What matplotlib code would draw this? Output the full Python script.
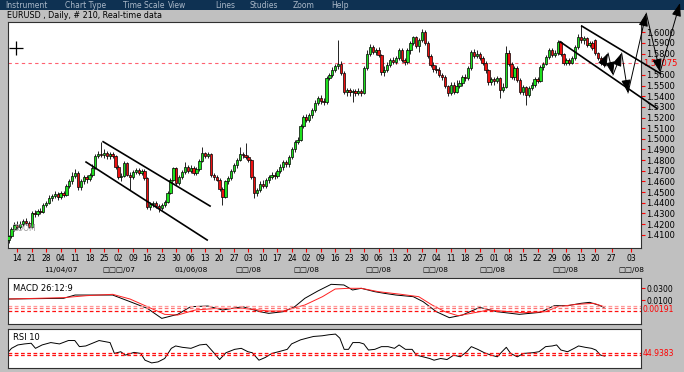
import numpy as np
import matplotlib.pyplot as plt
import matplotlib.transforms as mtransforms
from matplotlib.patches import Rectangle

W, H = 684, 372

def box(x0, y0, x1, y1):
    # pixel box (top-left origin) -> figure fraction rect
    return [x0 / W, 1 - y1 / H, (x1 - x0) / W, (y1 - y0) / H]

# daily EURUSD candles
opens = [
    1.4050, 1.4087, 1.4150, 1.4190, 1.4170, 1.4200, 1.4230, 1.4210, 1.4175, 1.4300,
    1.4290, 1.4320, 1.4310, 1.4380, 1.4400, 1.4440, 1.4460, 1.4480, 1.4450, 1.4495,
    1.4470, 1.4560, 1.4600, 1.4650, 1.4680, 1.4545, 1.4600, 1.4640, 1.4620, 1.4660,
    1.4730, 1.4840, 1.4860, 1.4850, 1.4865, 1.4835, 1.4860, 1.4840, 1.4735, 1.4640,
    1.4650, 1.4770, 1.4660, 1.4640, 1.4690, 1.4710, 1.4680, 1.4700, 1.4630, 1.4360,
    1.4390, 1.4400, 1.4370, 1.4350, 1.4380, 1.4410, 1.4490, 1.4610, 1.4725, 1.4590,
    1.4640, 1.4690, 1.4735, 1.4700, 1.4730, 1.4680, 1.4720, 1.4790, 1.4865, 1.4840,
    1.4860, 1.4660, 1.4640, 1.4615, 1.4530, 1.4455, 1.4600, 1.4630, 1.4700, 1.4750,
    1.4800, 1.4860, 1.4850, 1.4830, 1.4800, 1.4640, 1.4490, 1.4520, 1.4580, 1.4560,
    1.4610, 1.4640, 1.4660, 1.4650, 1.4700, 1.4735, 1.4780, 1.4760, 1.4830, 1.4900,
    1.4970, 1.4990, 1.5120, 1.5205, 1.5180, 1.5223, 1.5270, 1.5340, 1.5383, 1.5355,
    1.5345, 1.5570, 1.5600, 1.5646, 1.5680, 1.5700, 1.5620, 1.5440, 1.5455, 1.5440,
    1.5450, 1.5430, 1.5445, 1.5430, 1.5665, 1.5800, 1.5862, 1.5815, 1.5830, 1.5790,
    1.5627, 1.5650, 1.5693, 1.5740, 1.5720, 1.5759, 1.5834, 1.5740, 1.5720, 1.5834,
    1.5900, 1.5956, 1.5870, 1.5928, 1.6003, 1.5900, 1.5780, 1.5693, 1.5660, 1.5646,
    1.5600, 1.5580, 1.5500, 1.5430, 1.5505, 1.5440, 1.5500, 1.5524, 1.5580, 1.5570,
    1.5665, 1.5815, 1.5780, 1.5800, 1.5760, 1.5712, 1.5646, 1.5533, 1.5560, 1.5540,
    1.5570, 1.5458, 1.5490, 1.5806, 1.5700, 1.5580, 1.5665, 1.5550, 1.5440, 1.5486,
    1.5410, 1.5480, 1.5505, 1.5560, 1.5540, 1.5674, 1.5700, 1.5768, 1.5834, 1.5790,
    1.5806, 1.5910, 1.5800, 1.5712, 1.5740, 1.5715, 1.5759, 1.5860, 1.5956, 1.5930,
    1.5947, 1.5880, 1.5900, 1.5928, 1.5806, 1.5760, 1.5720]
highs = [
    1.4100, 1.4170, 1.4215, 1.4225, 1.4230, 1.4250, 1.4255, 1.4230, 1.4320, 1.4330,
    1.4345, 1.4350, 1.4400, 1.4420, 1.4470, 1.4480, 1.4510, 1.4500, 1.4510, 1.4510,
    1.4580, 1.4620, 1.4690, 1.4720, 1.4700, 1.4620, 1.4660, 1.4660, 1.4680, 1.4760,
    1.4860, 1.4890, 1.4967, 1.4900, 1.4890, 1.4880, 1.4875, 1.4850, 1.4750, 1.4680,
    1.4790, 1.4780, 1.4690, 1.4710, 1.4730, 1.4730, 1.4720, 1.4720, 1.4640, 1.4410,
    1.4420, 1.4420, 1.4390, 1.4400, 1.4430, 1.4510, 1.4630, 1.4740, 1.4735, 1.4660,
    1.4710, 1.4783, 1.4750, 1.4750, 1.4745, 1.4740, 1.4810, 1.4923, 1.4880, 1.4880,
    1.4870, 1.4680, 1.4660, 1.4630, 1.4545, 1.4615, 1.4650, 1.4720, 1.4770, 1.4820,
    1.4923, 1.4880, 1.4961, 1.4850, 1.4810, 1.4650, 1.4540, 1.4600, 1.4610, 1.4630,
    1.4660, 1.4690, 1.4690, 1.4720, 1.4760, 1.4800, 1.4800, 1.4850, 1.4920, 1.4990,
    1.5020, 1.5140, 1.5225, 1.5230, 1.5240, 1.5290, 1.5360, 1.5400, 1.5410, 1.5380,
    1.5590, 1.5620, 1.5670, 1.5700, 1.5928, 1.5730, 1.5640, 1.5480, 1.5480, 1.5470,
    1.5470, 1.5480, 1.5465, 1.5680, 1.5830, 1.5890, 1.5880, 1.5850, 1.5860, 1.5800,
    1.5680, 1.5720, 1.5760, 1.5770, 1.5780, 1.5850, 1.5850, 1.5760, 1.5850, 1.5920,
    1.5970, 1.5970, 1.5950, 1.6028, 1.6020, 1.5920, 1.5800, 1.5720, 1.5690, 1.5670,
    1.5620, 1.5600, 1.5510, 1.5530, 1.5530, 1.5550, 1.5550, 1.5600, 1.5610, 1.5680,
    1.5830, 1.5840, 1.5830, 1.5820, 1.5780, 1.5730, 1.5660, 1.5580, 1.5580, 1.5590,
    1.5580, 1.5520, 1.5870, 1.5830, 1.5720, 1.5680, 1.5680, 1.5570, 1.5510, 1.5500,
    1.5500, 1.5530, 1.5580, 1.5580, 1.5690, 1.5720, 1.5790, 1.5850, 1.5850, 1.5830,
    1.5930, 1.5920, 1.5810, 1.5760, 1.5760, 1.5780, 1.5880, 1.5980, 1.6068, 1.5970,
    1.5960, 1.5920, 1.5920, 1.5940, 1.5820, 1.5775, 1.5730]
lows = [
    1.4025, 1.4070, 1.4130, 1.4150, 1.4150, 1.4180, 1.4190, 1.4160, 1.4165, 1.4270,
    1.4275, 1.4290, 1.4300, 1.4360, 1.4390, 1.4420, 1.4440, 1.4430, 1.4435, 1.4450,
    1.4460, 1.4540, 1.4580, 1.4630, 1.4520, 1.4520, 1.4580, 1.4590, 1.4600, 1.4640,
    1.4720, 1.4820, 1.4830, 1.4820, 1.4810, 1.4815, 1.4820, 1.4715, 1.4620, 1.4600,
    1.4640, 1.4650, 1.4520, 1.4620, 1.4670, 1.4660, 1.4660, 1.4610, 1.4340, 1.4330,
    1.4360, 1.4350, 1.4313, 1.4330, 1.4360, 1.4400, 1.4480, 1.4600, 1.4570, 1.4570,
    1.4620, 1.4670, 1.4680, 1.4680, 1.4660, 1.4665, 1.4700, 1.4780, 1.4820, 1.4820,
    1.4640, 1.4610, 1.4600, 1.4510, 1.4378, 1.4440, 1.4580, 1.4610, 1.4680, 1.4730,
    1.4790, 1.4820, 1.4810, 1.4780, 1.4620, 1.4444, 1.4460, 1.4500, 1.4540, 1.4540,
    1.4590, 1.4620, 1.4620, 1.4630, 1.4680, 1.4710, 1.4740, 1.4740, 1.4810, 1.4880,
    1.4950, 1.4980, 1.5100, 1.5160, 1.5160, 1.5200, 1.5250, 1.5320, 1.5330, 1.5320,
    1.5330, 1.5550, 1.5580, 1.5630, 1.5660, 1.5600, 1.5420, 1.5400, 1.5400, 1.5345,
    1.5400, 1.5410, 1.5400, 1.5420, 1.5650, 1.5780, 1.5800, 1.5790, 1.5770, 1.5600,
    1.5590, 1.5630, 1.5670, 1.5700, 1.5700, 1.5740, 1.5720, 1.5690, 1.5700, 1.5800,
    1.5880, 1.5850, 1.5815, 1.5910, 1.5880, 1.5760, 1.5670, 1.5630, 1.5620, 1.5580,
    1.5550, 1.5480, 1.5400, 1.5410, 1.5420, 1.5430, 1.5480, 1.5500, 1.5540, 1.5550,
    1.5650, 1.5760, 1.5760, 1.5740, 1.5690, 1.5620, 1.5510, 1.5510, 1.5510, 1.5520,
    1.5383, 1.5440, 1.5480, 1.5680, 1.5560, 1.5550, 1.5530, 1.5420, 1.5410, 1.5317,
    1.5390, 1.5460, 1.5490, 1.5520, 1.5530, 1.5650, 1.5690, 1.5750, 1.5770, 1.5770,
    1.5790, 1.5780, 1.5690, 1.5690, 1.5690, 1.5700, 1.5740, 1.5840, 1.5900, 1.5890,
    1.5860, 1.5860, 1.5830, 1.5790, 1.5740, 1.5690, 1.5670]
closes = [
    1.4087, 1.4150, 1.4190, 1.4170, 1.4200, 1.4230, 1.4210, 1.4175, 1.4300, 1.4290,
    1.4320, 1.4310, 1.4380, 1.4400, 1.4440, 1.4460, 1.4480, 1.4450, 1.4495, 1.4470,
    1.4560, 1.4600, 1.4650, 1.4680, 1.4545, 1.4600, 1.4640, 1.4620, 1.4660, 1.4730,
    1.4840, 1.4860, 1.4850, 1.4865, 1.4835, 1.4860, 1.4840, 1.4735, 1.4640, 1.4650,
    1.4770, 1.4660, 1.4640, 1.4690, 1.4710, 1.4680, 1.4700, 1.4630, 1.4360, 1.4390,
    1.4400, 1.4370, 1.4350, 1.4380, 1.4410, 1.4490, 1.4610, 1.4725, 1.4590, 1.4640,
    1.4690, 1.4735, 1.4700, 1.4730, 1.4680, 1.4720, 1.4790, 1.4865, 1.4840, 1.4860,
    1.4660, 1.4640, 1.4615, 1.4530, 1.4455, 1.4600, 1.4630, 1.4700, 1.4750, 1.4800,
    1.4860, 1.4850, 1.4830, 1.4800, 1.4640, 1.4490, 1.4520, 1.4580, 1.4560, 1.4610,
    1.4640, 1.4660, 1.4650, 1.4700, 1.4735, 1.4780, 1.4760, 1.4830, 1.4900, 1.4970,
    1.4990, 1.5120, 1.5205, 1.5180, 1.5223, 1.5270, 1.5340, 1.5383, 1.5355, 1.5345,
    1.5570, 1.5600, 1.5646, 1.5680, 1.5700, 1.5620, 1.5440, 1.5455, 1.5440, 1.5450,
    1.5430, 1.5445, 1.5430, 1.5665, 1.5800, 1.5862, 1.5815, 1.5830, 1.5790, 1.5627,
    1.5650, 1.5693, 1.5740, 1.5720, 1.5759, 1.5834, 1.5740, 1.5720, 1.5834, 1.5900,
    1.5956, 1.5870, 1.5928, 1.6003, 1.5900, 1.5780, 1.5693, 1.5660, 1.5646, 1.5600,
    1.5580, 1.5500, 1.5430, 1.5505, 1.5440, 1.5500, 1.5524, 1.5580, 1.5570, 1.5665,
    1.5815, 1.5780, 1.5800, 1.5760, 1.5712, 1.5646, 1.5533, 1.5560, 1.5540, 1.5570,
    1.5458, 1.5490, 1.5806, 1.5700, 1.5580, 1.5665, 1.5550, 1.5440, 1.5486, 1.5410,
    1.5480, 1.5505, 1.5560, 1.5540, 1.5674, 1.5700, 1.5768, 1.5834, 1.5790, 1.5806,
    1.5910, 1.5800, 1.5712, 1.5740, 1.5715, 1.5759, 1.5860, 1.5956, 1.5930, 1.5947,
    1.5880, 1.5900, 1.5852, 1.5806, 1.5760, 1.5712, 1.5693]

week_labels = ["14", "21", "28", "04", "11", "18", "25", "02", "09", "16", "23", "30",
               "06", "13", "20", "27", "03", "10", "17", "24", "02", "09", "16", "23",
               "30", "06", "13", "20", "27", "04", "11", "18", "25", "01", "08", "15",
               "22", "29", "06", "13", "20", "27", "03"]
week_pos = [3 + 5 * k for k in range(41)] + [208.7, 215.5]
month_labels = ["11/04/07", "\u25a1\u25a1\u25a1/07", "01/06/08", "\u25a1\u25a1/08",
                "\u25a1\u25a1/08", "\u25a1\u25a1/08", "\u25a1\u25a1/08", "\u25a1\u25a1/08",
                "\u25a1\u25a1/08", "\u25a1\u25a1/08"]
month_pos = [18, 38, 63, 83, 103, 128, 147.5, 167.5, 192.5, 215.5]

price_ticks = [1.41, 1.42, 1.43, 1.44, 1.45, 1.46, 1.47, 1.48, 1.49, 1.50,
               1.51, 1.52, 1.53, 1.54, 1.55, 1.56, 1.58, 1.59, 1.60]
last_line = 1.57075

# hand drawn trend channels (day, price)
chan1_up = ([32.7, 69.7], [1.4973, 1.4369])
chan1_lo = ([26.8, 68.7], [1.4782, 1.4050])
chan2_up = ([198.3, 225.4], [1.6059, 1.5615])
chan2_lo = ([190.8, 224.3], [1.5912, 1.5286])
zig_x = [205.7, 207.4, 209.1, 212.1, 214.3, 220.6, 225.4, 232.3]
zig_y = [1.5712, 1.5806, 1.5599, 1.5806, 1.5430, 1.6181, 1.5627, 1.6275]

# MACD 26:12:9 (day, value)
macd_x = [0, 19, 23, 36, 42, 48, 53, 58.5, 63, 69, 74, 81, 87, 90, 95, 99, 102.5, 107,
          111.6, 116, 119, 122, 126.7, 130, 134, 140, 143.4, 148, 152.5, 157, 163, 169,
          176.7, 184, 188.8, 193.4, 198, 201, 204, 206]
macd_v = [0.0117, 0.0129, 0.0185, 0.0185, 0.0072, -0.0043, -0.0214, -0.0145, -0.0014,
          -0.0003, -0.0071, -0.0014, -0.0100, -0.0128, -0.0100, -0.0014, 0.0129, 0.0254,
          0.0368, 0.0357, 0.0271, 0.0300, 0.0242, 0.0214, 0.0185, 0.0157, 0.0072, -0.0100,
          -0.0202, -0.0157, -0.0026, -0.0100, -0.0145, -0.0111, 0.0003, 0.0003, 0.0043,
          0.0060, 0.0015, -0.0026]
sig_x = [0, 19, 27, 36, 42, 48, 54, 58.5, 64.6, 72, 81, 90, 95, 102.5, 108.6, 113, 117.6,
         122, 128, 135.8, 141.9, 146.5, 151, 155.5, 160, 166, 178, 185.8, 190, 196.5,
         202.5, 206]
sig_v = [0.0117, 0.0140, 0.0174, 0.0197, 0.0117, -0.0014, -0.0145, -0.0157, -0.0071,
         -0.0043, -0.0043, -0.0088, -0.0088, 0.0015, 0.0157, 0.0288, 0.0300, 0.0300,
         0.0242, 0.0197, 0.0157, 0.0015, -0.0100, -0.0168, -0.0128, -0.0071, -0.0117,
         -0.0100, -0.0014, 0.0026, 0.0043, -0.0014]
macd_levels = [-0.0003, -0.0042, -0.0088]

# RSI 10 (day, value)
rsi_x = [0, 1, 3.2, 5.5, 7.8, 9.3, 11.6, 14.6, 17.6, 20.7, 22.9, 24.5, 26.7, 29, 31.3,
         35.1, 36.6, 38.8, 40.4, 43.4, 45.7, 47.2, 49.5, 51.7, 54, 56.3, 57.8, 60.1, 63.1,
         66.1, 68.4, 70.7, 73, 75.2, 78.2, 80.5, 82.8, 84.3, 86.6, 88.8, 91.1, 93.4, 96.4,
         97.9, 101, 103.2, 105.5, 108.5, 110.8, 113.1, 114.6, 116.1, 117.6, 119.1, 121.4,
         122.9, 124.5, 126.7, 129, 131.3, 133.5, 135.1, 137.3, 139.6, 141.1, 143.4, 145.7,
         147.2, 149.5, 151.7, 154, 156.3, 158.5, 160.1, 162.3, 164.6, 166.9, 169.1, 170.7,
         172.2, 173.7, 176, 178.2, 181.3, 183.5, 185.8, 188.1, 189.6, 191.1, 193.4, 195.7,
         197.2, 199.5, 201.7, 203.2, 204.8, 206.3]
rsi_v = [47.3, 51.3, 55.3, 56.5, 57.3, 51.3, 55.3, 58.1, 56.5, 60.5, 60.5, 53.3, 54.1,
         57.3, 60.5, 58.1, 45.3, 47.3, 43.3, 46.5, 45.3, 37.3, 34.1, 35.3, 39.3, 51.3, 54.1,
         52.5, 51.3, 55.3, 56.1, 47.3, 38.1, 46.1, 50.1, 51.3, 47.3, 46.1, 37.3, 40.5, 45.3,
         47.3, 50.1, 56.5, 61.3, 63.3, 65.3, 66.1, 67.3, 68.1, 63.3, 50.1, 50.1, 58.1, 58.1,
         56.5, 49.3, 50.1, 53.3, 53.3, 51.3, 55.3, 50.1, 50.1, 43.3, 41.3, 39.3, 37.3, 39.3,
         38.1, 43.3, 41.3, 47.3, 53.3, 50.1, 46.1, 43.3, 41.3, 47.3, 52.5, 45.3, 41.3, 45.3,
         46.1, 47.3, 53.3, 54.1, 55.3, 49.3, 47.3, 51.3, 54.1, 52.5, 51.3, 49.3, 43.3, 42.1]
rsi_levels = [46.1, 43.7]

menu_items = ["Instrument", "Chart Type", "Time Scale", "View", "Lines", "Studies", "Zoom", "Help"]
menu_x = [5, 65, 123, 168, 215, 250, 293, 331]

XLIM = (-0.38, 218.8)
GRAY = '#c0c0c0'

fig = plt.figure(figsize=(6.84, 3.72), dpi=100, facecolor=GRAY)

# menu bar
fig.add_artist(Rectangle((0, 1 - 10 / H), 1, 10 / H, transform=fig.transFigure,
                         facecolor='#0e3152', edgecolor='none', zorder=0))
for name, mx in zip(menu_items, menu_x):
    fig.text(mx / W, 1 - 5 / H, name, color='#aab8c8', fontsize=5.5, va='center')
fig.text(7 / W, 1 - 16 / H, "EURUSD , Daily, # 210, Real-time data", fontsize=5.8, va='center')

# ---- price panel
ax = fig.add_axes(box(7.5, 22, 641, 248))
ax.set_zorder(2)
ax.set_facecolor('white')
days = np.arange(len(closes))
o, h, l, c = (np.array(v) for v in (opens, highs, lows, closes))
body_col = np.where(c >= o, '#1ee01e', '#ee1010')
ax.vlines(days, l, h, color='black', lw=0.6, zorder=2)
ax.bar(days, np.abs(c - o), bottom=np.minimum(o, c), width=0.8, color=body_col,
       edgecolor='black', linewidth=0.5, zorder=3)

ax.axhline(last_line, color='#ff6070', lw=0.8, dashes=(3, 3), zorder=1)

for xs, ys in (chan1_up, chan1_lo, chan2_up, chan2_lo):
    ax.plot(xs, ys, color='black', lw=1.2, clip_on=False, zorder=4)
for k in range(len(zig_x) - 1):
    ax.annotate('', xy=(zig_x[k + 1], zig_y[k + 1]), xytext=(zig_x[k], zig_y[k]),
                arrowprops=dict(arrowstyle='-|>,head_length=0.8,head_width=0.28',
                                color='black', lw=0.7, shrinkA=0, shrinkB=0),
                annotation_clip=False, zorder=5)

ax.plot([0.0134], [0.885], marker='+', ms=10, mew=0.9, color='black', transform=ax.transAxes)
ax.text(0.008, 0.075, "ZOOM", transform=ax.transAxes, color='#9a9a9a', fontsize=5.5)

ax.set_xlim(*XLIM)
ax.set_ylim(1.3975, 1.6097)
ax.yaxis.tick_right()
ax.set_yticks(price_ticks)
ax.set_yticklabels(['%.4f' % v for v in price_ticks])
ax.tick_params(axis='y', colors='red', labelcolor='black', length=3, width=0.8,
               labelsize=6, pad=1)
ax.set_xticks(week_pos)
ax.set_xticklabels(week_labels)
ax.tick_params(axis='x', colors='red', labelcolor='black', length=3, width=0.8,
               labelsize=5.5, pad=1.5)
ax.text(1.003, last_line, '%.5f' % last_line, color='red', fontsize=6, va='center',
        transform=mtransforms.blended_transform_factory(ax.transAxes, ax.transData))
trans_x = mtransforms.blended_transform_factory(ax.transData, ax.transAxes)
for lab, mp in zip(month_labels, month_pos):
    ax.text(mp, -0.098, lab, transform=trans_x, ha='center', va='center', fontsize=5.3)
for sp in ax.spines.values():
    sp.set_color('#303030')
    sp.set_linewidth(0.8)

# ---- MACD panel
ax2 = fig.add_axes(box(7.5, 278, 641, 324))
ax2.plot(macd_x, macd_v, color='black', lw=0.7)
ax2.plot(sig_x, sig_v, color='#ff2020', lw=0.7)
for lv, col in zip(macd_levels, ['#ff9a9a', '#ff7070', '#ff1010']):
    ax2.axhline(lv, color=col, lw=0.9, dashes=(3, 2))
ax2.set_xlim(*XLIM)
ax2.set_ylim(-0.031, 0.0476)
ax2.set_xticks([])
ax2.yaxis.tick_right()
ax2.set_yticks([0.03, 0.01])
ax2.set_yticklabels(['0.0300', '0.0100'])
ax2.tick_params(axis='y', colors='red', labelcolor='black', length=3, width=0.8,
                labelsize=5.5, pad=1)
ax2.text(1.003, -0.0062, '0.00191', color='red', fontsize=5.5, va='center',
         transform=mtransforms.blended_transform_factory(ax2.transAxes, ax2.transData))
ax2.text(0.008, 0.78, 'MACD 26:12:9', transform=ax2.transAxes, fontsize=6, va='center')

# ---- RSI panel
ax3 = fig.add_axes(box(7.5, 329, 641, 368))
ax3.plot(rsi_x, rsi_v, color='black', lw=0.7)
for lv in rsi_levels:
    ax3.axhline(lv, color='#ff1010', lw=0.9, dashes=(3, 2))
ax3.set_xlim(*XLIM)
ax3.set_ylim(28.1, 74.1)
ax3.set_xticks([])
ax3.set_yticks([])
ax3.text(1.003, 44.9, '44.9383', color='red', fontsize=5.5, va='center',
         transform=mtransforms.blended_transform_factory(ax3.transAxes, ax3.transData))
ax3.text(0.008, 0.78, 'RSI 10', transform=ax3.transAxes, fontsize=6, va='center')

for a in (ax2, ax3):
    for sp in a.spines.values():
        sp.set_color('#303030')
        sp.set_linewidth(0.8)

fig.savefig('out.png', dpi=100, facecolor=GRAY)
